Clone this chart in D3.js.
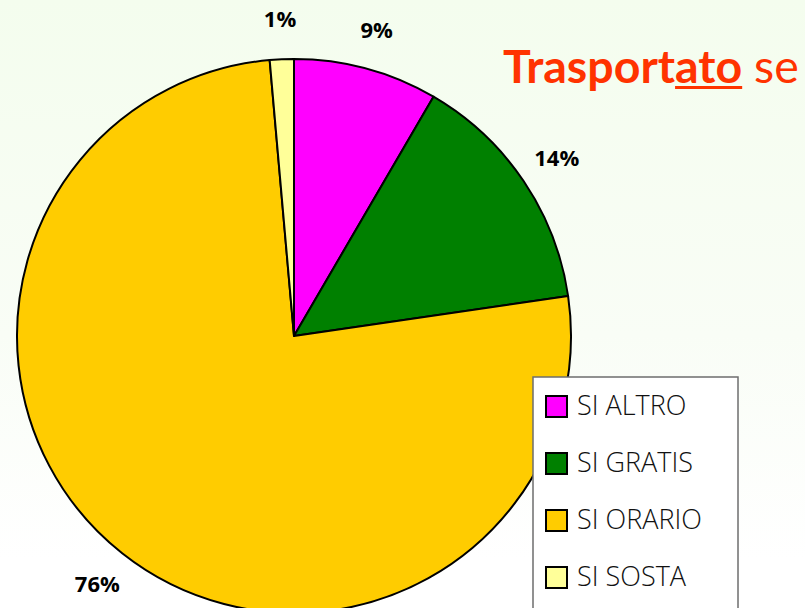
<!DOCTYPE html>
<meta charset="utf-8">
<script src="https://d3js.org/d3.v7.min.js"></script>
<style>
  body { margin: 0; overflow: hidden; }
</style>
<div id="chart"></div>
<script>
  // data
  var categories = ["SI ALTRO", "SI GRATIS", "SI ORARIO", "SI SOSTA"];
  var shares = [8.4, 14.3, 75.9, 1.4];
  var shareLabels = ["9%", "14%", "76%", "1%"];
  var colors = ["#ff00ff", "#008000", "#ffcc00", "#ffff99"];
  var titleParts = ["Trasport", "ato", " se"];

  var width = 805, height = 608;
  var cx = 294, cy = 336, radius = 277;

  var svg = d3.select("#chart").append("svg")
    .attr("width", width)
    .attr("height", height);

  // pale green background fading to white
  var grad = svg.append("defs").append("linearGradient")
    .attr("id", "bg").attr("x1", 0).attr("y1", 0).attr("x2", 0).attr("y2", 1);
  grad.append("stop").attr("offset", "0%").attr("stop-color", "#f4fdee");
  grad.append("stop").attr("offset", "55%").attr("stop-color", "#f9fdf6");
  grad.append("stop").attr("offset", "92%").attr("stop-color", "#ffffff");
  svg.append("rect").attr("width", width).attr("height", height).attr("fill", "url(#bg)");

  // title
  var title = svg.append("text")
    .attr("x", 503).attr("y", 83)
    .attr("fill", "#ff3300")
    .style("font-family", "Lato, 'Open Sans', sans-serif")
    .style("font-size", "46.5px");
  title.append("tspan").attr("font-weight", "bold").text(titleParts[0]);
  title.append("tspan").attr("font-weight", "bold").text(titleParts[1]);
  title.append("tspan").text(titleParts[2]);
  var tn = title.node();
  var u0 = tn.getStartPositionOfChar(titleParts[0].length).x;
  var u1 = tn.getEndPositionOfChar(titleParts[0].length + titleParts[1].length - 1).x;
  svg.append("rect").attr("x", u0).attr("y", 86).attr("width", u1 - u0).attr("height", 3).attr("fill", "#ff3300");

  // pie
  var pie = d3.pie().sort(null).value(function (d) { return d; });
  var arcs = pie(shares);
  var arc = d3.arc().innerRadius(0).outerRadius(radius);
  var labelArc = d3.arc().innerRadius(317).outerRadius(317);

  var g = svg.append("g").attr("transform", "translate(" + cx + "," + cy + ")");
  g.selectAll("path")
    .data(arcs)
    .enter().append("path")
    .attr("d", arc)
    .attr("fill", function (d, i) { return colors[i]; })
    .attr("stroke", "#000")
    .attr("stroke-width", 2)
    .attr("stroke-linejoin", "round");

  g.selectAll("text.lbl")
    .data(arcs)
    .enter().append("text")
    .attr("class", "lbl")
    .attr("transform", function (d) { return "translate(" + labelArc.centroid(d) + ")"; })
    .attr("text-anchor", "middle")
    .attr("dy", "0.35em")
    .style("font-family", "'Open Sans', sans-serif")
    .style("font-weight", "bold")
    .style("font-size", "22px")
    .attr("fill", "#000")
    .text(function (d, i) { return shareLabels[i]; });

  // legend
  var legend = svg.append("g").attr("transform", "translate(533,377)");
  legend.append("rect")
    .attr("width", 205).attr("height", 260)
    .attr("fill", "#fff")
    .attr("stroke", "#6e6e6e")
    .attr("stroke-width", 1.5);

  var item = legend.selectAll("g.item")
    .data(categories)
    .enter().append("g")
    .attr("class", "item")
    .attr("transform", function (d, i) { return "translate(13," + (19 + i * 57) + ")"; });
  item.append("rect")
    .attr("width", 21).attr("height", 21)
    .attr("fill", function (d, i) { return colors[i]; })
    .attr("stroke", "#000").attr("stroke-width", 2);
  item.append("text")
    .attr("x", 31).attr("y", 19)
    .style("font-family", "'Open Sans', sans-serif")
    .style("font-weight", 300)
    .style("font-size", "27px")
    .attr("fill", "#111")
    .text(function (d) { return d; });
</script>
